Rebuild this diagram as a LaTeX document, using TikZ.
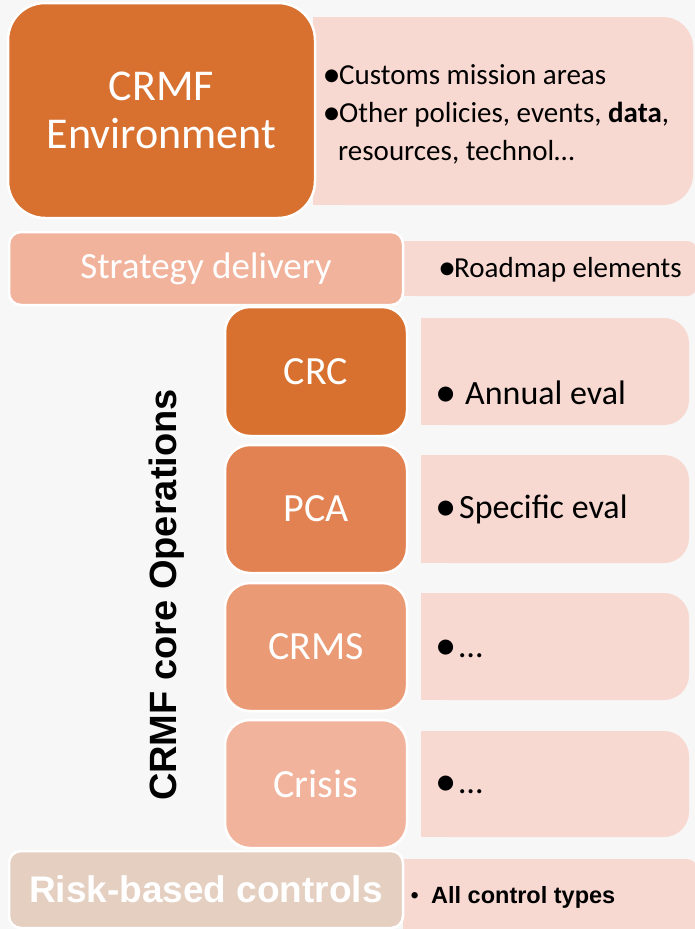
\documentclass[tikz,border=0pt]{standalone}
\usepackage{fontspec}
\setmainfont{Carlito}
\newfontfamily\arialf{Liberation Sans}
\definecolor{bgc}{HTML}{F7F7F7}
\definecolor{darkor}{HTML}{D87130}
\definecolor{midor}{HTML}{E28253}
\definecolor{lightor}{HTML}{EA9A74}
\definecolor{paleor}{HTML}{F2B39C}
\definecolor{beige}{HTML}{E4CFC1}
\definecolor{pinkc}{HTML}{F7D9D1}
\newcommand\pinkpanel[5]{%
  \fill[pinkc,rounded corners=#5] (#1,#2) rectangle (#3,#4);
  \fill[pinkc] (#1,#2) rectangle ({#1+40},#4);}
\newcommand\bul[1]{\makebox[#1][l]{\hspace{-0.04em}\raisebox{-0.07em}{\scalebox{1.25}{•}}}}
\begin{document}
\begin{tikzpicture}[x=1pt,y=-1pt,
  lbox/.style={draw=white, line width=2.5pt, text=white, inner sep=0pt, anchor=center, align=center},
  rtext/.style={anchor=base west, inner sep=0pt, text=black},
  fA/.style={font=\fontsize{29}{34}\selectfont},
  fB/.style={font=\fontsize{34}{40}\selectfont},
  fC/.style={font=\fontsize{40}{46}\selectfont}]
\useasboundingbox (0,0) rectangle (695,929);
\fill[bgc] (0,0) rectangle (695,929);
% right panels
\pinkpanel{313}{17}{693}{205}{30pt}
\pinkpanel{403}{241}{697}{296}{10pt}
\pinkpanel{421}{318}{689}{425}{25pt}
\pinkpanel{421}{455}{689}{563}{25pt}
\pinkpanel{421}{593}{689}{700}{25pt}
\pinkpanel{421}{731}{689}{837}{25pt}
\pinkpanel{403}{859}{697}{945}{10pt}
% left boxes
\node[lbox, fill=darkor, rounded corners=37pt, minimum width=307pt, minimum height=215pt,
  font=\fontsize{44}{48}\selectfont] (env) at (161.5,110.5) {CRMF\\Environment};
\node[lbox, fill=paleor, rounded corners=12pt, minimum width=394pt, minimum height=73pt,
  font=\fontsize{37}{42}\selectfont] (strat) at (206,268.5) {Strategy delivery};
\node[lbox, fill=darkor, rounded corners=25pt, minimum width=182pt, minimum height=129pt, fC] (crc) at (316,371.5) {CRC};
\node[lbox, fill=midor, rounded corners=25pt, minimum width=182pt, minimum height=128pt, fC] (pca) at (316,509) {PCA};
\node[lbox, fill=lightor, rounded corners=25pt, minimum width=182pt, minimum height=128pt, fC] (crms) at (316,647) {CRMS};
\node[lbox, fill=paleor, rounded corners=25pt, minimum width=182pt, minimum height=128pt, fC] (crisis) at (316,784) {Crisis};
\node[lbox, fill=beige, rounded corners=12pt, minimum width=394pt, minimum height=77pt,
  font=\arialf\bfseries\fontsize{37}{42}\selectfont] (risk) at (206,889.5) {Risk-based controls};
% vertical label
\node[anchor=base, rotate=90, inner sep=0pt, font=\arialf\bfseries\fontsize{38}{42}\selectfont] (ops) at (176.5,595) {CRMF core Operations};
% right texts
\node[rtext, fA] (t1) at (323.5,84) {\bul{15.5pt}Customs mission areas};
\node[rtext, fA] (t2) at (323.5,122) {\bul{15.5pt}Other policies, events, \textbf{data},};
\node[rtext, fA] (t3) at (338,160) {resources, technol…};
\node[rtext, fA] (t4) at (439,277) {\bul{15pt}Roadmap elements};
\node[rtext, fB] (t5) at (436.5,404) {\bul{28.5pt}Annual eval};
\node[rtext, fB] (t6) at (436.5,518) {\bul{22.5pt}Specific eval};
\node[rtext, fB] (t7) at (436.5,657) {\bul{22.5pt}…};
\node[rtext, fB] (t8) at (436.5,793) {\bul{22.5pt}…};
\node[rtext, font=\arialf\fontsize{23.5}{28}\selectfont] (t9) at (410.5,903) {\makebox[20.5pt][l]{•}\textbf{All control types}};
\end{tikzpicture}
\end{document}
